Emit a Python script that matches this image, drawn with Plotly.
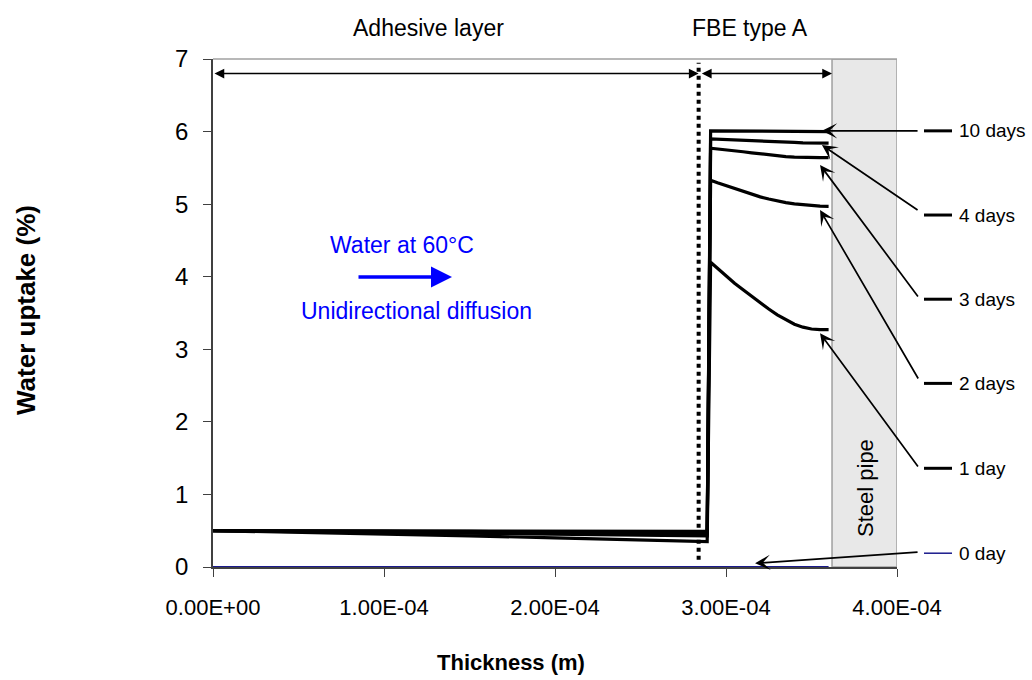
import plotly.graph_objects as go

# ---------------- data ----------------
x_adhesive = [0.0, 0.5e-4, 1.0e-4, 1.5e-4, 2.0e-4, 2.5e-4, 2.89e-4]
x_fbe = [2.91e-4, 2.95e-4, 3.0e-4, 3.05e-4, 3.1e-4, 3.15e-4, 3.2e-4, 3.25e-4,
         3.3e-4, 3.35e-4, 3.4e-4, 3.45e-4, 3.5e-4, 3.55e-4, 3.6e-4]

series_names = ["10 days", "4 days", "3 days", "2 days", "1 day"]
adhesive_vals = {
    "10 days": [0.50, 0.50, 0.50, 0.49, 0.49, 0.49, 0.49],
    "4 days":  [0.50, 0.50, 0.49, 0.49, 0.48, 0.48, 0.47],
    "3 days":  [0.50, 0.50, 0.49, 0.48, 0.47, 0.46, 0.46],
    "2 days":  [0.50, 0.49, 0.48, 0.47, 0.45, 0.44, 0.43],
    "1 day":   [0.50, 0.48, 0.46, 0.43, 0.40, 0.37, 0.35],
}
fbe_vals = {
    "10 days": [6.01, 6.01, 6.01, 6.01, 6.01, 6.00, 6.00, 6.00, 6.00, 6.00, 6.00, 6.00, 6.00, 6.00, 6.00],
    "4 days":  [5.90, 5.895, 5.89, 5.885, 5.88, 5.875, 5.87, 5.865, 5.86, 5.855, 5.85, 5.845, 5.84, 5.84, 5.84],
    "3 days":  [5.77, 5.762, 5.75, 5.737, 5.722, 5.707, 5.692, 5.678, 5.665, 5.655, 5.648, 5.643, 5.64, 5.64, 5.64],
    "2 days":  [5.33, 5.295, 5.255, 5.212, 5.172, 5.135, 5.10, 5.07, 5.043, 5.02, 5.003, 4.99, 4.98, 4.972, 4.97],
    "1 day":   [4.20, 4.115, 4.01, 3.91, 3.82, 3.73, 3.64, 3.555, 3.475, 3.405, 3.345, 3.305, 3.28, 3.27, 3.27],
}
x_zero_day = [0.0, 3.6e-4]
y_zero_day = [0.0, 0.0]

interface_x = 2.84e-4
steel_x0 = 3.62e-4
steel_x1 = 4.0e-4

x_tickvals = [0.0, 1e-4, 2e-4, 3e-4, 4e-4]
x_ticktext = ["0.00E+00", "1.00E-04", "2.00E-04", "3.00E-04", "4.00E-04"]
y_tickvals = [0, 1, 2, 3, 4, 5, 6, 7]

# legend: (label, arrow head x, head y, tail y, colour)
legend_items = [
    ("10 days", 3.561e-4, 6.01, 6.01, "black"),
    ("4 days", 3.561e-4, 5.815, 4.906, "black"),
    ("3 days", 3.55e-4, 5.54, 3.707, "black"),
    ("2 days", 3.55e-4, 4.92, 2.577, "black"),
    ("1 day", 3.55e-4, 3.22, 1.364, "black"),
    ("0 day", 3.17e-4, 0.05, 0.207, "#1a1a8c"),
]
legend_label_y = [6.01, 4.85, 3.69, 2.53, 1.36, 0.19]
arrow_tail_x = 4.129e-4

FONT = "Liberation Sans, Arial, sans-serif"

# ---------------- layout geometry ----------------
W, H = 1032, 680
L, R, T, B = 213, 897, 59, 567


def px_x(p):
    return (p - L) / (R - L)


def px_y(p):
    return (B - p) / (B - T)


fig = go.Figure()

for name in series_names:
    fig.add_trace(go.Scatter(
        x=x_adhesive + x_fbe,
        y=adhesive_vals[name] + fbe_vals[name],
        mode="lines",
        line=dict(color="black", width=3.2),
        name=name,
        showlegend=False,
        hoverinfo="skip",
    ))

fig.add_trace(go.Scatter(
    x=x_zero_day, y=y_zero_day, mode="lines",
    line=dict(color="#1a1a8c", width=2), name="0 day", showlegend=False,
))

shapes = []
# steel pipe block
shapes.append(dict(type="rect", xref="x", yref="y", x0=steel_x0, x1=steel_x1, y0=0, y1=7,
                   fillcolor="#e8e8e8", line=dict(color="#a0a0a0", width=1.5), layer="below"))
# top frame line
shapes.append(dict(type="line", xref="paper", yref="paper", x0=0, x1=1, y0=1, y1=1,
                   line=dict(color="#a0a0a0", width=1.5)))
# interface dotted line
shapes.append(dict(type="line", xref="x", yref="y", x0=interface_x, x1=interface_x, y0=0.1, y1=6.95,
                   line=dict(color="black", width=4, dash="4px,4px")))

annotations = []
# double-headed arrows
annotations.append(dict(x=interface_x, y=6.8, ax=0.0, ay=6.8, xref="x", yref="y", axref="x", ayref="y",
                        text="", showarrow=True, arrowside="end+start", arrowhead=2, startarrowhead=2,
                        arrowsize=1.5, startarrowsize=1.5, arrowwidth=1.3, arrowcolor="black"))
annotations.append(dict(x=steel_x0, y=6.8, ax=interface_x + 0.01e-4, ay=6.8, xref="x", yref="y",
                        axref="x", ayref="y",
                        text="", showarrow=True, arrowside="end+start", arrowhead=2, startarrowhead=2,
                        arrowsize=1.5, startarrowsize=1.5, arrowwidth=1.3, arrowcolor="black"))

# legend with arrows
for (label_text, hx, hy, ty, col), ly in zip(legend_items, legend_label_y):
    annotations.append(dict(x=hx, y=hy, ax=arrow_tail_x, ay=ty, xref="x", yref="y", axref="x", ayref="y",
                            text="", showarrow=True, arrowhead=3, arrowsize=1.5, arrowwidth=1.7,
                            arrowcolor="black"))
    shapes.append(dict(type="line", xref="paper", yref="y", x0=px_x(924), x1=px_x(952), y0=ly, y1=ly,
                       line=dict(color=col, width=3 if col == "black" else 1.5)))
    annotations.append(dict(x=px_x(957), y=ly, xref="paper", yref="y", text=label_text, showarrow=False,
                            xanchor="left", yanchor="middle", font=dict(size=19, color="black", family=FONT)))


def label(px, py, text, size, color="black", angle=0, bold=False):
    annotations.append(dict(x=px_x(px), y=px_y(py), xref="paper", yref="paper",
                            text=f"<b>{text}</b>" if bold else text, showarrow=False,
                            xanchor="center", yanchor="middle", textangle=angle,
                            font=dict(size=size, color=color, family=FONT)))


# region labels
label(428, 28, "Adhesive layer", 23)
label(750, 28, "FBE type A", 23)
label(865, 488, "Steel pipe", 22, angle=-90)

# water / diffusion
label(402, 245, "Water at 60°C", 23, color="#0000ff")
label(416, 311, "Unidirectional diffusion", 23, color="#0000ff")
annotations.append(dict(x=px_x(452), y=px_y(277), ax=-95, ay=0, xref="paper", yref="paper",
                        axref="pixel", ayref="pixel", text="", showarrow=True, arrowhead=2,
                        arrowsize=1.2, arrowwidth=3.5, arrowcolor="#0000ff"))

# axis titles
label(511, 662, "Thickness (m)", 22, bold=True)
label(26, 310, "Water uptake (%)", 26, angle=-90, bold=True)

fig.update_layout(
    width=W, height=H,
    margin=dict(l=L, r=W - R, t=T, b=H - B, pad=0),
    paper_bgcolor="white", plot_bgcolor="white",
    font=dict(family=FONT, color="black"),
    shapes=shapes, annotations=annotations,
    showlegend=False,
    xaxis=dict(range=[0, 4e-4], tickvals=x_tickvals, ticktext=x_ticktext, showgrid=False, zeroline=False,
               showline=True, linecolor="#404040", linewidth=1.5, ticks="outside", ticklen=8,
               tickcolor="#404040", tickfont=dict(size=22, family=FONT, color="black"),
               ticklabelstandoff=12),
    yaxis=dict(range=[0, 7], tickvals=y_tickvals, showgrid=False, zeroline=False,
               showline=True, linecolor="#404040", linewidth=1.5, ticks="outside", ticklen=8,
               tickcolor="#404040", tickfont=dict(size=24, family=FONT, color="black"),
               ticklabelstandoff=10),
)

fig.write_html("out.html")
